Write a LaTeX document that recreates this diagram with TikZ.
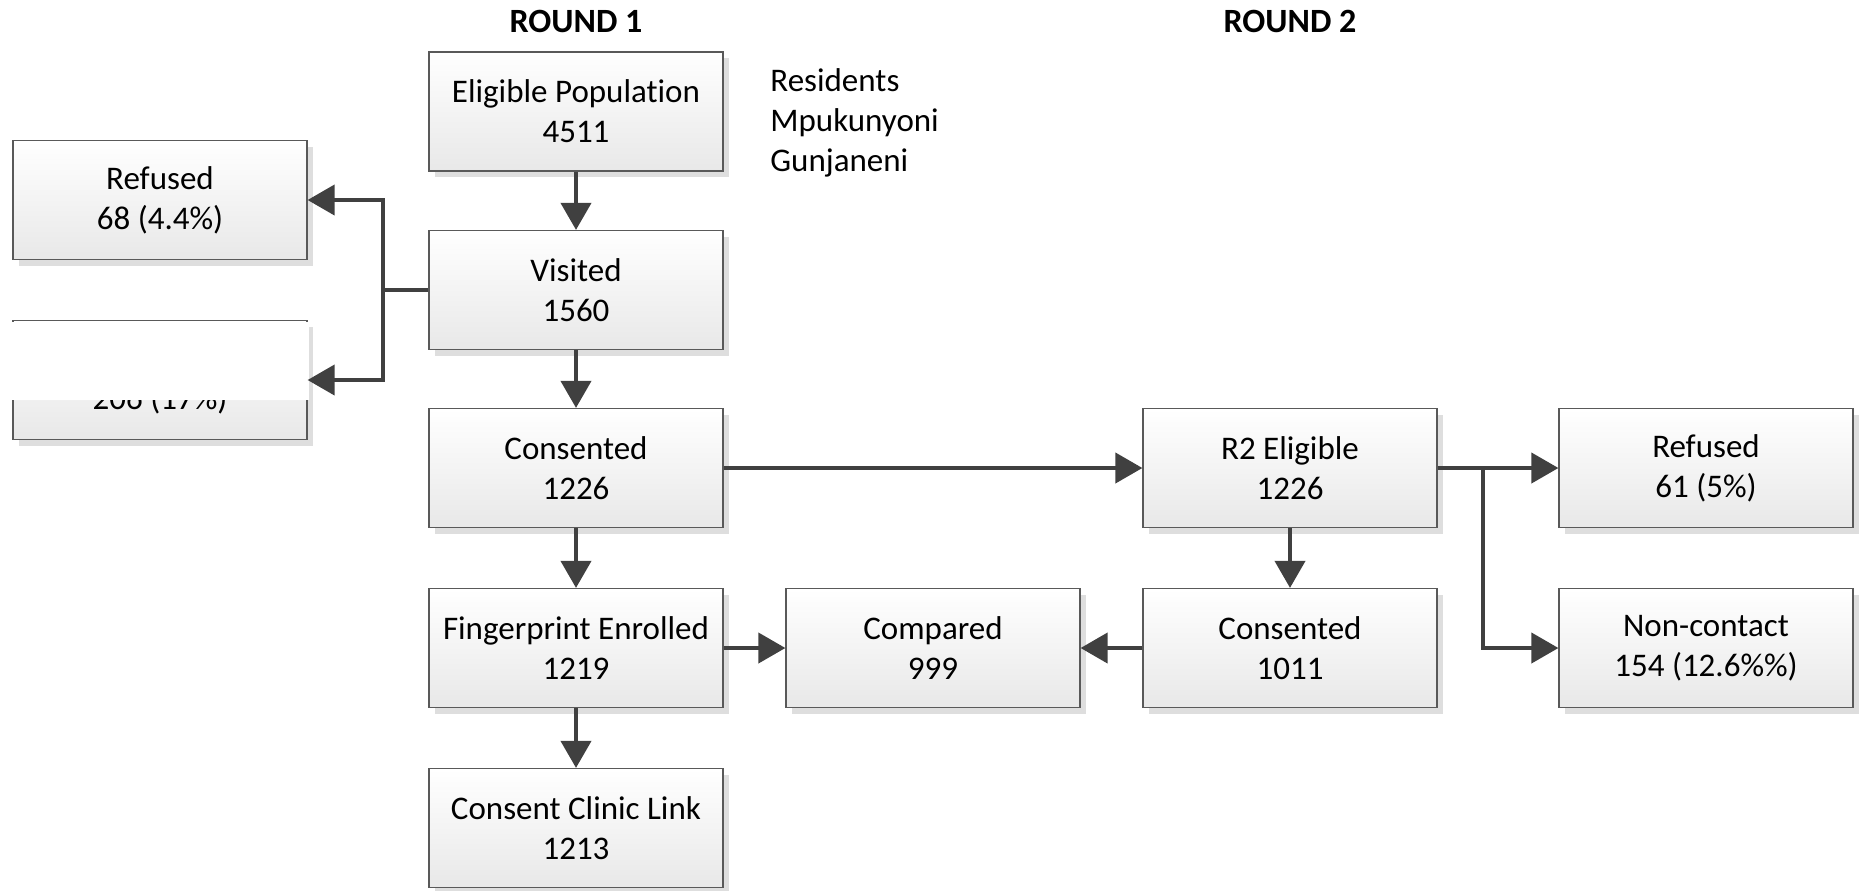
\documentclass[tikz,border=0pt]{standalone}
\usepackage{fontspec}
\setmainfont{Carlito}[Ligatures=NoCommon]
\usetikzlibrary{arrows.meta,shadows}

\begin{document}
\begin{tikzpicture}[x=0.5pt,y=-0.5pt,
	box/.style={draw=black!65, line width=0.6pt, rectangle, minimum width=147pt, minimum height=59.5pt,
		align=center, inner sep=0pt, top color=white, bottom color=black!9,
		font=\fontsize{16.5}{20}\selectfont,
		drop shadow={shadow xshift=3pt, shadow yshift=-3pt, fill=black!13, opacity=1}},
	link/.style={draw=black!75, line width=2pt, -{Triangle[length=13.5pt,width=15pt]}},
	joint/.style={draw=black!75, line width=2pt},
	heading/.style={font=\bfseries\fontsize{17}{20}\selectfont}
	]
	
	\useasboundingbox (0,0) rectangle (1862,890);
	
	% ---- Column headings ----
	\node[heading] (r1) at (576,21) {ROUND 1};
	\node[heading] (r2) at (1290,21) {ROUND 2};
	
	% ---- Round 1 column ----
	\foreach \y/\name/\head/\num in {
		111.5/elig/Eligible Population/4511,
		290/visited/Visited/1560,
		468/consent/Consented/1226,
		648/finger/Fingerprint Enrolled/1219,
		828/clinic/Consent Clinic Link/1213
	}
	{
		\node[box] (\name) at (576,\y) {\head\\\num};
	}
	
	% ---- Losses after visit ----
	\node[box] (refusedA) at (160,200) {Refused\\68 (4.4\%)};
	\node[box] (lost) at (160,380) {\vphantom{Rd}\\206 (17\%)};
	\fill[white] (10.5,321.5) rectangle (309.2,400);
	
	% ---- Round 2 ----
	\node[box] (elig2) at (1290,468) {R2 Eligible\\1226};
	\node[box] (consent2) at (1290,648) {Consented\\1011};
	\node[box] (compared) at (933,648) {Compared\\999};
	\node[box] (refusedB) at (1706,468) {Refused\\61 (5\%)};
	\node[box] (noncontact) at (1706,648) {Non-contact\\154 (12.6\%\%)};
	
	% ---- Note ----
	\node[anchor=west, align=left, inner sep=0pt, font=\fontsize{16.5}{20}\selectfont] (note) at (770,123)
	{Residents\\Mpukunyoni\\Gunjaneni};
	
	% ---- Arrows ----
	\draw[link] (elig) -- (visited);
	\draw[link] (visited) -- (consent);
	\draw[link] (consent) -- (finger);
	\draw[link] (finger) -- (clinic);
	\draw[link] (consent) -- (elig2);
	\draw[link] (elig2) -- (consent2);
	\draw[link] (finger) -- (compared);
	\draw[link] (consent2) -- (compared);
	\draw[link] (elig2) -- (refusedB);
	
	\coordinate (lsplit) at (383,290);
	\draw[joint] (visited.west) -- (lsplit);
	\draw[link] (lsplit) |- (refusedA.east);
	\draw[link] (lsplit) |- (lost.east);
	
	\coordinate (rsplit) at (1483,468);
	\draw[link] (rsplit) |- (noncontact.west);
	
\end{tikzpicture}
\end{document}
